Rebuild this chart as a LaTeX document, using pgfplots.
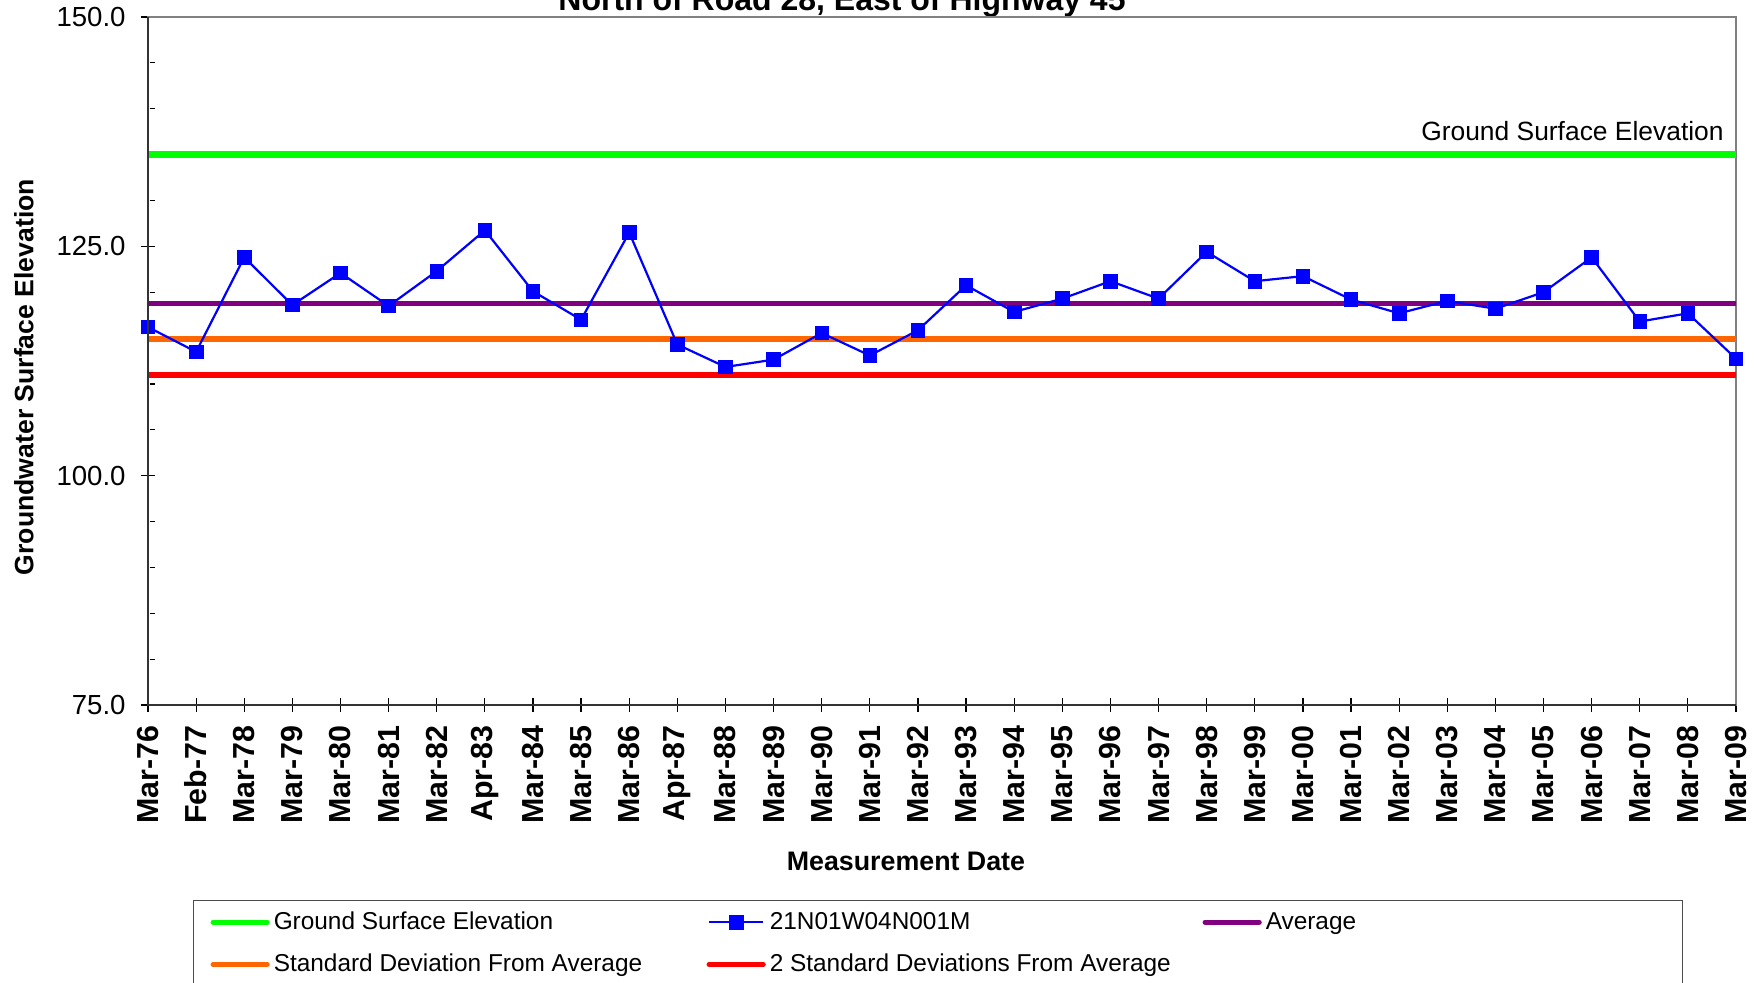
\documentclass[border=0pt]{standalone}
\usepackage{fontspec}
\setmainfont{Liberation Sans}
\usepackage{pgfplots}
\pgfplotsset{compat=1.18}
\definecolor{gse}{RGB}{0,255,0}
\definecolor{avg}{RGB}{128,0,128}
\definecolor{sd}{RGB}{255,102,0}
\definecolor{sdd}{RGB}{255,0,0}
\definecolor{ser}{RGB}{0,0,255}
\begin{document}
\begin{tikzpicture}
\path[use as bounding box] (0,0) rectangle (880pt,491pt);
\clip (0,0) rectangle (880pt,491pt);
\node[anchor=base, font=\bfseries\fontsize{16}{19}\selectfont] at (421pt,485.75pt) {North of Road 28, East of Highway 45};
\begin{axis}[
  at={(74pt,138.5pt)}, anchor=south west,
  width=794pt, height=344pt, scale only axis,
  xmin=0, xmax=33, ymin=75, ymax=150,
  clip=false,
  xtick={0,...,33},
  xticklabels={Mar-76,Feb-77,Mar-78,Mar-79,Mar-80,Mar-81,Mar-82,Apr-83,Mar-84,Mar-85,Mar-86,Apr-87,Mar-88,Mar-89,Mar-90,Mar-91,Mar-92,Mar-93,Mar-94,Mar-95,Mar-96,Mar-97,Mar-98,Mar-99,Mar-00,Mar-01,Mar-02,Mar-03,Mar-04,Mar-05,Mar-06,Mar-07,Mar-08,Mar-09},
  ytick={75,100,125,150},
  yticklabels={75.0,100.0,125.0,150.0},
  minor y tick num=4,
  tick pos=left,
  tick align=center,
  major tick length=7pt,
  minor tick length=2.5pt,
  minor tick style={xshift=2pt},
  tick style={black, line width=0.6pt},
  axis line style={draw=gray, line width=0.8pt},
  xticklabel style={rotate=90, anchor=east, font=\bfseries\fontsize{15.2}{18}\selectfont, inner sep=0pt},
  xticklabel shift=6.6pt,
  yticklabel style={font=\fontsize{13.8}{16.5}\selectfont, inner sep=0pt},
  yticklabel shift=7.5pt,
  xlabel={Measurement Date},
  xlabel style={font=\bfseries\fontsize{13.4}{16}\selectfont, at={(axis description cs:0.4773,-0.2267)}, anchor=center},
  ylabel={Groundwater Surface Elevation},
  ylabel style={font=\bfseries\fontsize{13.3}{16}\selectfont, at={(axis description cs:-0.0781,0.4767)}, anchor=center},
  legend columns=3,
  legend cell align=left,
  legend style={at={(0.0283,-0.2834)}, anchor=north west, draw=black!70, line width=0.6pt,
    font=\fontsize{12.2}{14.6}\selectfont, inner xsep=8.5pt, inner ysep=3.6pt, row sep=6.8pt,
    /tikz/every even column/.append style={column sep=0pt}},
  legend image code/.code={\draw[mark repeat=2,mark phase=2,#1] plot coordinates {(0pt,0pt)(13.5pt,0pt)(27pt,0pt)};},
  after end axis/.code={\draw[black!80, line width=0.8pt] (rel axis cs:0,1) -- (rel axis cs:0,0) -- (rel axis cs:1,0);},
]
\addlegendimage{gse, line width=2.6pt, line cap=round}
\addlegendentry{\makebox[214.4pt][l]{Ground Surface Elevation}}
\addlegendimage{ser, line width=1.1pt, mark=square*, mark size=3.4pt, mark options={line width=0.4pt}}
\addlegendentry{\makebox[214.4pt][l]{21N01W04N001M}}
\addlegendimage{avg, line width=2.6pt, line cap=round}
\addlegendentry{\makebox[198pt][l]{Average}}
\addlegendimage{sd, line width=2.6pt, line cap=round}
\addlegendentry{\makebox[214.4pt][l]{Standard Deviation From Average}}
\addlegendimage{sdd, line width=2.6pt, line cap=round}
\addlegendentry{\makebox[214.4pt][l]{2 Standard Deviations From Average}}

\addplot[gse, line width=3.8pt, forget plot] coordinates {(0,135) (33,135)};
\addplot[avg, line width=2.6pt, forget plot] coordinates {(0,118.75) (33,118.75)};
\addplot[sd, line width=2.6pt, forget plot] coordinates {(0,114.9) (33,114.9)};
\addplot[sdd, line width=2.7pt, forget plot] coordinates {(0,110.97) (33,110.97)};
\addplot[ser, line width=1.1pt, mark=square*, mark size=3.4pt, mark options={line width=0.4pt}, forget plot] coordinates {
(0,116.2) (1,113.5) (2,123.8) (3,118.6) (4,122.1) (5,118.5) (6,122.3) (7,126.75) (8,120.1) (9,117.0)
(10,126.5) (11,114.3) (12,111.85) (13,112.65) (14,115.55) (15,113.1) (16,115.85) (17,120.75) (18,117.85) (19,119.3)
(20,121.2) (21,119.3) (22,124.4) (23,121.2) (24,121.75) (25,119.2) (26,117.7) (27,119.05) (28,118.2) (29,120.0)
(30,123.8) (31,116.8) (32,117.7) (33,112.75)};
\node[anchor=base east, xshift=-6pt, yshift=7.3pt, inner sep=0pt, font=\fontsize{13.2}{16}\selectfont] at (axis cs:33,135) {Ground Surface Elevation};
\end{axis}
\end{tikzpicture}
\end{document}
